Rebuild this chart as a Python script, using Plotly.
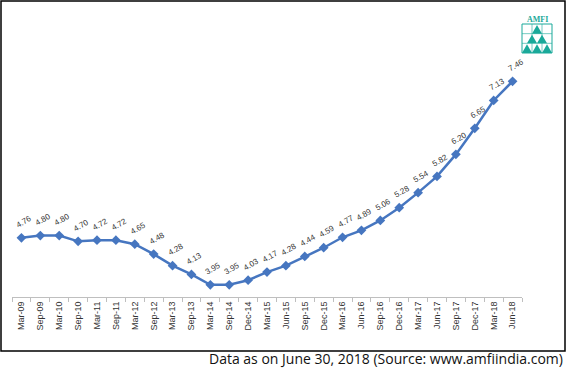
import plotly.graph_objects as go

categories = ["Mar-09", "Sep-09", "Mar-10", "Sep-10", "Mar-11", "Sep-11", "Mar-12", "Sep-12",
              "Mar-13", "Sep-13", "Mar-14", "Sep-14", "Dec-14", "Mar-15", "Jun-15", "Sep-15",
              "Dec-15", "Mar-16", "Jun-16", "Sep-16", "Dec-16", "Mar-17", "Jun-17", "Sep-17",
              "Dec-17", "Mar-18", "Jun-18"]
values = [4.76, 4.80, 4.80, 4.70, 4.72, 4.72, 4.65, 4.48, 4.28, 4.13, 3.95, 3.95, 4.03, 4.17,
          4.28, 4.44, 4.59, 4.77, 4.89, 5.06, 5.28, 5.54, 5.82, 6.20, 6.65, 7.13, 7.46]
footer = "Data as on June 30, 2018 (Source: www.amfiindia.com)"

W, H = 567, 370
L, R, T, B = 12, 45, 50, 73
PW, PH = W - L - R, H - T - B

def px(x):
    return (x - L) / PW

def py(y):
    return (H - B - y) / PH

fig = go.Figure()
fig.add_trace(go.Scatter(
    x=categories, y=values, mode="lines+markers",
    line=dict(color="#4676C0", width=2.5),
    marker=dict(symbol="diamond", size=7.5, color="#4676C0"),
    cliponaxis=False, hoverinfo="skip",
))

annotations = []
for c, v in zip(categories, values):
    annotations.append(dict(
        x=c, y=v, xref="x", yref="y", text=f"{v:.2f}", showarrow=False,
        textangle=-30, yshift=16, xshift=3,
        font=dict(family="Liberation Sans, Arial", size=8, color="#333333"),
    ))
annotations.append(dict(
    xref="paper", yref="paper", x=px(565), y=py(358), xanchor="right", yanchor="middle",
    text=footer, showarrow=False,
    font=dict(family="Open Sans", size=14, color="#111111"),
))
# logo text
annotations.append(dict(
    xref="paper", yref="paper", x=px(537), y=py(20), xanchor="center", yanchor="middle",
    text="<b>AMFI</b>", showarrow=False,
    font=dict(family="Liberation Serif", size=8, color="#1AA99A"),
))

teal = "#1AA99A"
shapes = [
    dict(type="rect", xref="paper", yref="paper", x0=px(1), x1=px(565), y0=py(1), y1=py(351),
         line=dict(color="black", width=1.5), fillcolor="rgba(0,0,0,0)", layer="below"),
]
# logo grid
gx0, gx1, gy0, gy1 = 522, 552, 24, 53
shapes.append(dict(type="rect", xref="paper", yref="paper", x0=px(gx0), x1=px(gx1),
                   y0=py(gy0), y1=py(gy1), line=dict(color=teal, width=1)))
for i in range(1, 3):
    xx = gx0 + (gx1 - gx0) * i / 3
    shapes.append(dict(type="line", xref="paper", yref="paper", x0=px(xx), x1=px(xx),
                       y0=py(gy0), y1=py(gy1), line=dict(color=teal, width=0.6)))
    yy = gy0 + (gy1 - gy0) * i / 3
    shapes.append(dict(type="line", xref="paper", yref="paper", x0=px(gx0), x1=px(gx1),
                       y0=py(yy), y1=py(yy), line=dict(color=teal, width=0.6)))
rh = (gy1 - gy0) / 3
tw = 10
rows = [[537], [532, 542], [527, 537, 547]]
for r, centers in enumerate(rows):
    ytop = gy0 + r * rh + 1
    ybot = gy0 + (r + 1) * rh
    for cx in centers:
        path = (f"M {px(cx - tw/2)},{py(ybot)} L {px(cx + tw/2)},{py(ybot)} "
                f"L {px(cx)},{py(ytop)} Z")
        shapes.append(dict(type="path", xref="paper", yref="paper", path=path,
                           fillcolor=teal, line=dict(color=teal, width=0)))

fig.update_layout(
    width=W, height=H,
    margin=dict(l=L, r=R, t=T, b=B),
    paper_bgcolor="white", plot_bgcolor="white",
    showlegend=False,
    xaxis=dict(type="category", range=[-0.5, len(categories) - 0.5], tickangle=-90,
               showgrid=False, zeroline=False, showline=True, linecolor="#BFBFBF", linewidth=1,
               ticks="outside", tickson="boundaries", ticklen=4, tickcolor="#BFBFBF",
               tickfont=dict(family="Liberation Sans, Arial", size=9, color="#333333")),
    yaxis=dict(range=[3.74, 8.0], visible=False, showgrid=False, zeroline=False),
    annotations=annotations,
    shapes=shapes,
)

fig.write_html("out.html", config={"displayModeBar": False, "staticPlot": True},
               post_script="document.body.style.margin='0';")
